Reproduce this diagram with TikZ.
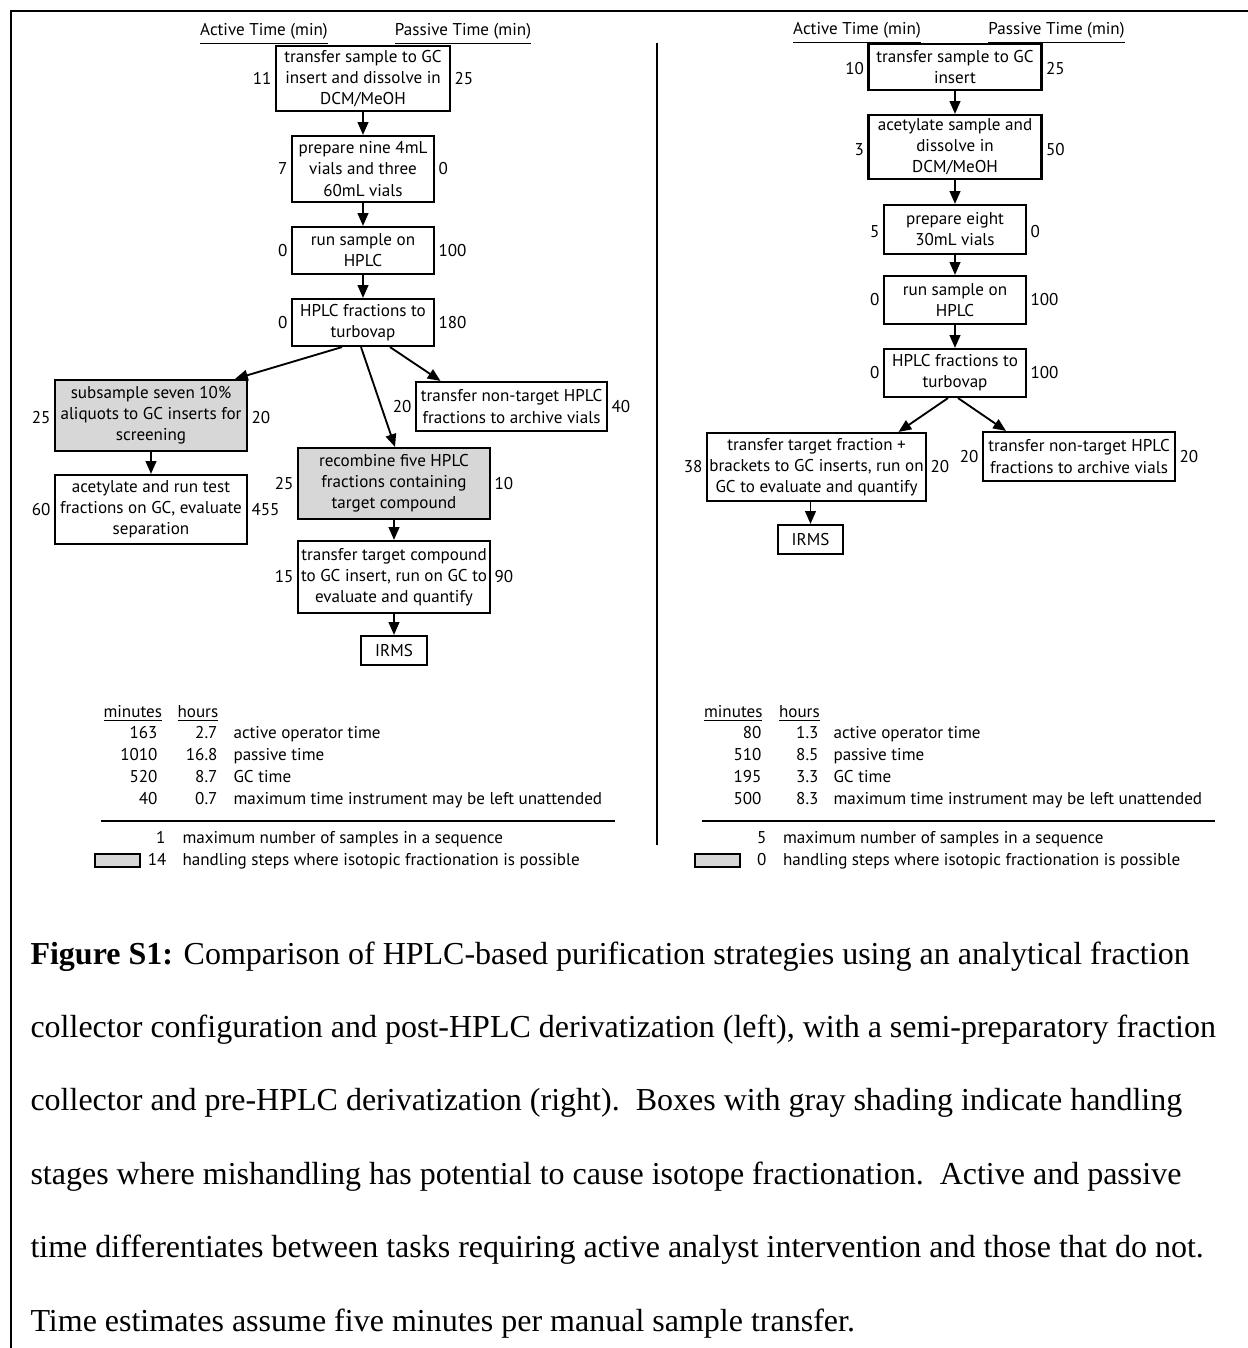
\documentclass[tikz,border=0pt]{standalone}
\usepackage{fontspec}
\setmainfont{Liberation Serif}
\newfontfamily\diafont{PT Sans}
\usetikzlibrary{arrows.meta}
\definecolor{shade}{RGB}{215,215,215}
\def\px{0.375pt}
\begin{document}
\begin{tikzpicture}[x=0.375pt,y=-0.375pt,
  dfont/.style={font=\diafont\fontsize{6.4}{7.9}\selectfont},
  box/.style={draw, line width=0.8pt, inner sep=0pt, align=center, dfont},
  gbox/.style={box, fill=shade},
  num/.style={dfont, inner sep=0pt},
  txt/.style={dfont, inner sep=0pt},
  arr/.style={line width=0.7pt, -{Triangle[length=4.8pt,width=4pt]}},
  captxt/.style={font=\fontsize{12}{14}\selectfont, inner sep=0pt, anchor=base west},
]
\useasboundingbox (0,0) rectangle (1248,1348);
% frame
\draw[line width=1pt, line join=miter] (11,1348) -- (11,11) -- (1248,11);
\draw[line width=0.75pt] (657,43) -- (657,845);

% ---------------- left panel ----------------
\node[txt, anchor=base] (LhA) at (264,36) {\underline{Active Time (min)}};
\node[txt, anchor=base] (LhP) at (463,36) {\underline{Passive Time (min)}};

\node[box, minimum width=174*\px, minimum height=65*\px] (L1) at (363,78.5) {transfer sample to GC\\insert and dissolve in\\DCM/MeOH};
\node[box, minimum width=142*\px, minimum height=66*\px] (L2) at (363,169) {prepare nine 4mL\\vials and three\\60mL vials};
\node[box, minimum width=142*\px, minimum height=47*\px] (L3) at (363,250.5) {run sample on\\HPLC};
\node[box, minimum width=142*\px, minimum height=47*\px] (L4) at (363,322.5) {HPLC fractions to\\turbovap};
\node[gbox, minimum width=192*\px, minimum height=71*\px] (L5) at (151,415.5) {subsample seven 10\%\\aliquots to GC inserts for\\screening};
\node[box, minimum width=191*\px, minimum height=49*\px] (L6) at (511.5,406.5) {transfer non-target HPLC\\fractions to archive vials};
\node[box, minimum width=192*\px, minimum height=69*\px] (L8) at (151,509.5) {acetylate and run test\\fractions on GC, evaluate\\separation};
\node[gbox, minimum width=192*\px, minimum height=71*\px] (L7) at (394,483.5) {recombine five HPLC\\fractions containing\\target compound};
\node[box, minimum width=192*\px, minimum height=72*\px] (L9) at (394,577) {transfer target compound\\to GC insert, run on GC to\\evaluate and quantify};
\node[box, minimum width=66*\px, minimum height=29*\px] (LI) at (394,650.5) {IRMS};

\node[num, anchor=east] (L1a) at ([xshift=-3*\px]L1.west) {11};
\node[num, anchor=west] (L1p) at ([xshift=3*\px]L1.east) {25};
\node[num, anchor=east] (L2a) at ([xshift=-3*\px]L2.west) {7};
\node[num, anchor=west] (L2p) at ([xshift=3*\px]L2.east) {0};
\node[num, anchor=east] (L3a) at ([xshift=-3*\px]L3.west) {0};
\node[num, anchor=west] (L3p) at ([xshift=3*\px]L3.east) {100};
\node[num, anchor=east] (L4a) at ([xshift=-3*\px]L4.west) {0};
\node[num, anchor=west] (L4p) at ([xshift=3*\px]L4.east) {180};
\node[num, anchor=east] (L5a) at ([xshift=-3*\px,yshift=-2*\px]L5.west) {25};
\node[num, anchor=west] (L5p) at ([xshift=3*\px,yshift=-2*\px]L5.east) {20};
\node[num, anchor=east] (L6a) at ([xshift=-3*\px]L6.west) {20};
\node[num, anchor=west] (L6p) at ([xshift=3*\px]L6.east) {40};
\node[num, anchor=east] (L8a) at ([xshift=-3*\px]L8.west) {60};
\node[num, anchor=west] (L8p) at ([xshift=3*\px]L8.east) {455};
\node[num, anchor=east] (L7a) at ([xshift=-3*\px]L7.west) {25};
\node[num, anchor=west] (L7p) at ([xshift=3*\px]L7.east) {10};
\node[num, anchor=east] (L9a) at ([xshift=-3*\px]L9.west) {15};
\node[num, anchor=west] (L9p) at ([xshift=3*\px]L9.east) {90};

\draw[arr] (L1) -- (L2);
\draw[arr] (L2) -- (L3);
\draw[arr] (L3) -- (L4);
\draw[arr] ([xshift=-21*\px]L4.south) -- ([xshift=84*\px]L5.north);
\draw[arr] ([xshift=-2*\px]L4.south) -- ([xshift=1*\px]L7.north);
\draw[arr] ([xshift=27*\px]L4.south) -- ([xshift=-71*\px]L6.north);
\draw[arr] (L5) -- (L8);
\draw[arr] (L7) -- (L9);
\draw[arr] (L9) -- (LI);

% left legend
\node[txt, anchor=base west] (LLm) at (103,717) {\underline{minutes}};
\node[txt, anchor=base west] (LLh) at (177,717) {\underline{hours}};
\node[txt, anchor=base east] (LL1m) at (158,738) {163};
\node[txt, anchor=base east] (LL1h) at (218,738) {2.7};
\node[txt, anchor=base west] (LL1t) at (233,738) {active operator time};
\node[txt, anchor=base east] (LL2m) at (158,760) {1010};
\node[txt, anchor=base east] (LL2h) at (218,760) {16.8};
\node[txt, anchor=base west] (LL2t) at (233,760) {passive time};
\node[txt, anchor=base east] (LL3m) at (158,782) {520};
\node[txt, anchor=base east] (LL3h) at (218,782) {8.7};
\node[txt, anchor=base west] (LL3t) at (233,782) {GC time};
\node[txt, anchor=base east] (LL4m) at (158,804) {40};
\node[txt, anchor=base east] (LL4h) at (218,804) {0.7};
\node[txt, anchor=base west] (LL4t) at (233,804) {maximum time instrument may be left unattended};
\draw[line width=0.7pt] (101,821) -- (615,821);
\node[txt, anchor=base east] (LL5n) at (166,843) {1};
\node[txt, anchor=base west] (LL5t) at (182,843) {maximum number of samples in a sequence};
\node[draw, fill=shade, line width=0.75pt, inner sep=0pt, minimum width=45*\px, minimum height=13*\px] (LLg) at (117,860) {};
\node[txt, anchor=base east] (LL6n) at (167,865) {14};
\node[txt, anchor=base west] (LL6t) at (182,865) {handling steps where isotopic fractionation is possible};

% ---------------- right panel ----------------
\node[txt, anchor=base] (RhA) at (857,35) {\underline{Active Time (min)}};
\node[txt, anchor=base] (RhP) at (1056.5,35) {\underline{Passive Time (min)}};

\node[box, minimum width=173*\px, minimum height=46*\px] (R1) at (955,67) {transfer sample to GC\\insert};
\node[box, minimum width=173*\px, minimum height=64*\px] (R2) at (955,147) {acetylate sample and\\dissolve in\\DCM/MeOH};
\node[box, minimum width=142*\px, minimum height=49*\px] (R3) at (955,229.5) {prepare eight\\30mL vials};
\node[box, minimum width=142*\px, minimum height=48*\px] (R4) at (955,300) {run sample on\\HPLC};
\node[box, minimum width=142*\px, minimum height=48*\px] (R5) at (955,373) {HPLC fractions to\\turbovap};
\node[box, minimum width=219*\px, minimum height=68*\px] (R6) at (816.5,467) {transfer target fraction +\\brackets to GC inserts, run on\\GC to evaluate and quantify};
\node[box, minimum width=192*\px, minimum height=49*\px] (R7) at (1079,456.5) {transfer non-target HPLC\\fractions to archive vials};
\node[box, minimum width=65*\px, minimum height=29*\px] (RI) at (810.5,539.5) {IRMS};

\node[num, anchor=east] (R1a) at ([xshift=-3*\px,yshift=-2*\px]R1.west) {10};
\node[num, anchor=west] (R1p) at ([xshift=3*\px,yshift=-2*\px]R1.east) {25};
\node[num, anchor=east] (R2a) at ([xshift=-3*\px,yshift=-3*\px]R2.west) {3};
\node[num, anchor=west] (R2p) at ([xshift=3*\px,yshift=-3*\px]R2.east) {50};
\node[num, anchor=east] (R3a) at ([xshift=-3*\px,yshift=-2*\px]R3.west) {5};
\node[num, anchor=west] (R3p) at ([xshift=3*\px,yshift=-2*\px]R3.east) {0};
\node[num, anchor=east] (R4a) at ([xshift=-3*\px]R4.west) {0};
\node[num, anchor=west] (R4p) at ([xshift=3*\px]R4.east) {100};
\node[num, anchor=east] (R5a) at ([xshift=-3*\px]R5.west) {0};
\node[num, anchor=west] (R5p) at ([xshift=3*\px]R5.east) {100};
\node[num, anchor=east] (R6a) at ([xshift=-3*\px]R6.west) {38};
\node[num, anchor=west] (R6p) at ([xshift=3*\px]R6.east) {20};
\node[num, anchor=east] (R7a) at ([xshift=-3*\px]R7.west) {20};
\node[num, anchor=west] (R7p) at ([xshift=3*\px]R7.east) {20};

\draw[arr] (R1) -- (R2);
\draw[arr] (R2) -- (R3);
\draw[arr] (R3) -- (R4);
\draw[arr] (R4) -- (R5);
\draw[arr] ([xshift=-7*\px]R5.south) -- ([xshift=82*\px]R6.north);
\draw[arr] ([xshift=3*\px]R5.south) -- ([xshift=-73*\px]R7.north);
\draw[arr] ([xshift=-6*\px]R6.south) -- (RI.north);

% right legend
\node[txt, anchor=base west] (RLm) at (703.5,717) {\underline{minutes}};
\node[txt, anchor=base west] (RLh) at (778.5,717) {\underline{hours}};
\node[txt, anchor=base east] (RL1m) at (762,738) {80};
\node[txt, anchor=base east] (RL1h) at (819,738) {1.3};
\node[txt, anchor=base west] (RL1t) at (833,738) {active operator time};
\node[txt, anchor=base east] (RL2m) at (762,760) {510};
\node[txt, anchor=base east] (RL2h) at (819,760) {8.5};
\node[txt, anchor=base west] (RL2t) at (833,760) {passive time};
\node[txt, anchor=base east] (RL3m) at (762,782) {195};
\node[txt, anchor=base east] (RL3h) at (819,782) {3.3};
\node[txt, anchor=base west] (RL3t) at (833,782) {GC time};
\node[txt, anchor=base east] (RL4m) at (762,804) {500};
\node[txt, anchor=base east] (RL4h) at (819,804) {8.3};
\node[txt, anchor=base west] (RL4t) at (833,804) {maximum time instrument may be left unattended};
\draw[line width=0.7pt] (702,821) -- (1215,821);
\node[txt, anchor=base east] (RL5n) at (767,843) {5};
\node[txt, anchor=base west] (RL5t) at (782.5,843) {maximum number of samples in a sequence};
\node[draw, fill=shade, line width=0.75pt, inner sep=0pt, minimum width=45*\px, minimum height=13*\px] (RLg) at (717,860) {};
\node[txt, anchor=base east] (RL6n) at (767,865) {0};
\node[txt, anchor=base west] (RL6t) at (782.5,865) {handling steps where isotopic fractionation is possible};

% ---------------- caption ----------------
\node[captxt] (c1) at (30,964) {\textbf{Figure S1:} Comparison of HPLC-based purification strategies using an analytical fraction};
\node[captxt] (c2) at (30,1037.4) {collector configuration and post-HPLC derivatization (left), with a semi-preparatory fraction};
\node[captxt] (c3) at (30,1110.8) {collector and pre-HPLC derivatization (right).\ \ Boxes with gray shading indicate handling};
\node[captxt] (c4) at (30,1184.2) {stages where mishandling has potential to cause isotope fractionation.\ \ Active and passive};
\node[captxt] (c5) at (30,1257.6) {time differentiates between tasks requiring active analyst intervention and those that do not.};
\node[captxt] (c6) at (30,1331) {Time estimates assume five minutes per manual sample transfer.};
\end{tikzpicture}
\end{document}
